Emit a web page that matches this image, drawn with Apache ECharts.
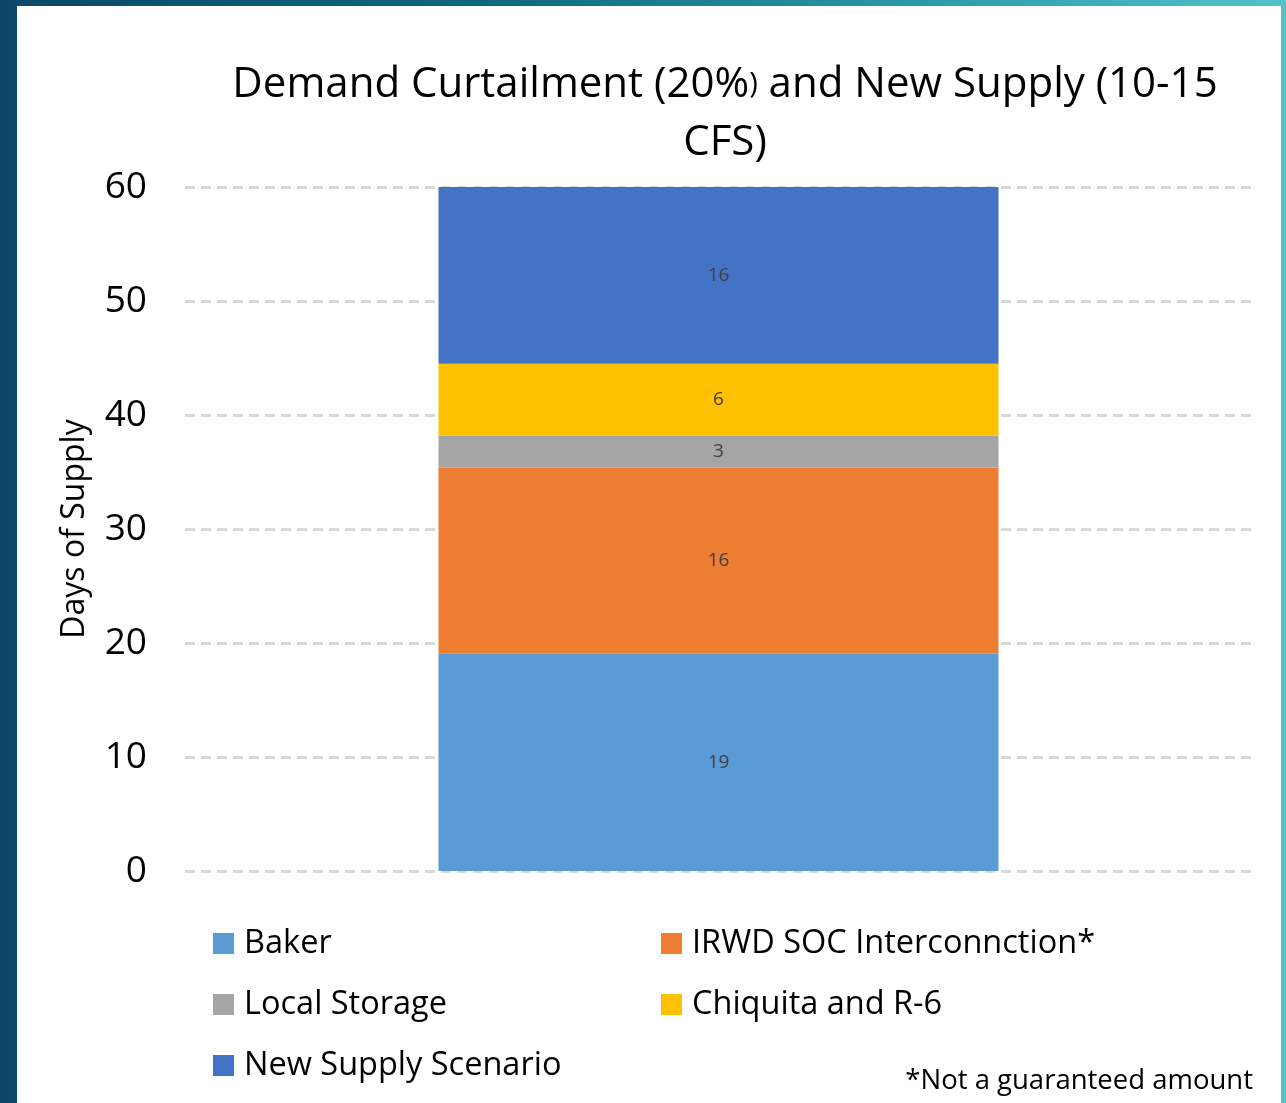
<!DOCTYPE html>
<html>
<head>
<meta charset="utf-8">
<script src="https://cdn.jsdelivr.net/npm/echarts@6/dist/echarts.min.js"></script>
<style>
  html, body { margin: 0; padding: 0; }
  body {
    width: 1286px; height: 1103px; overflow: hidden;
    background: linear-gradient(90deg, #0a4766 0%, #106b80 40%, #2d9fb0 75%, #52c3c8 100%);
    position: relative;
  }
  #chart {
    position: absolute; left: 17px; top: 6px;
    width: 1264px; height: 1097px; background: #fff;
  }
</style>
</head>
<body>
<div id="chart"></div>
<script>
// data
var categories = ['Scenario'];
var seriesNames = ['Baker', 'IRWD SOC Interconnction*', 'Local Storage', 'Chiquita and R-6', 'New Supply Scenario'];
var bakerDays = [19.1];
var irwdDays = [16.3];
var localStorageDays = [2.8];
var chiquitaDays = [6.3];
var newSupplyDays = [15.5];
var yTicks = [0, 10, 20, 30, 40, 50, 60];

var colors = ['#5b9bd5', '#ed7d31', '#a5a5a5', '#ffc000', '#4472c4'];
var font = '"Open Sans", sans-serif';

var chart = echarts.init(document.getElementById('chart'));

function barSeries(name, data, i) {
  return {
    name: name,
    type: 'bar',
    stack: 'total',
    data: data,
    barWidth: 560,
    itemStyle: { color: colors[i] },
    label: {
      show: true,
      position: 'inside',
      color: '#404040',
      fontSize: 19,
      fontFamily: font,
      formatter: function (p) { return Math.round(p.value); }
    }
  };
}

var legendText = { fontSize: 32.5, fontFamily: font, color: '#000', lineHeight: 33, padding: [0, 0, 0, 5] };

var option = {
  animation: false,
  color: colors,
  title: {
    text: '{a|Demand Curtailment (20%}{s|)}{a| and New Supply (10-15}\n{a|CFS)}',
    left: 703,
    top: 45,
    textAlign: 'center',
    textStyle: {
      fontWeight: 'normal',
      rich: {
        a: { fontSize: 42, fontFamily: font, fontWeight: 'normal', color: '#000', lineHeight: 58 },
        s: { fontSize: 29, fontFamily: font, fontWeight: 'normal', color: '#000', lineHeight: 58 }
      }
    }
  },
  grid: {
    left: 168,
    right: 29,
    top: 181,
    bottom: 232
  },
  xAxis: {
    type: 'category',
    data: categories,
    axisLine: { show: false },
    axisTick: { show: false },
    axisLabel: { show: false }
  },
  yAxis: {
    type: 'value',
    min: yTicks[0],
    max: yTicks[yTicks.length - 1],
    interval: 10,
    name: 'Days of Supply',
    nameLocation: 'middle',
    nameGap: 94,
    nameRotate: 90,
    nameTextStyle: { fontSize: 32, fontFamily: font, color: '#000' },
    axisLine: { show: false },
    axisTick: { show: false },
    axisLabel: { fontSize: 37, fontFamily: font, color: '#000', margin: 38 },
    splitLine: {
      lineStyle: { color: '#d9d9d9', width: 3, type: [10, 6] }
    }
  },
  legend: [
    {
      data: [seriesNames[0], seriesNames[2], seriesNames[4]],
      orient: 'vertical',
      left: 191,
      top: 916,
      itemWidth: 21,
      itemHeight: 21,
      itemGap: 28,
      icon: 'rect',
      textStyle: legendText
    },
    {
      data: [seriesNames[1], seriesNames[3]],
      orient: 'vertical',
      left: 639,
      top: 916,
      itemWidth: 21,
      itemHeight: 21,
      itemGap: 28,
      icon: 'rect',
      textStyle: legendText
    }
  ],
  graphic: [
    {
      type: 'text',
      right: 28,
      top: 1061,
      style: { text: '*Not a guaranteed amount', fontSize: 27.5, fontFamily: font, fill: '#000' }
    }
  ],
  series: [
    barSeries(seriesNames[0], bakerDays, 0),
    barSeries(seriesNames[1], irwdDays, 1),
    barSeries(seriesNames[2], localStorageDays, 2),
    barSeries(seriesNames[3], chiquitaDays, 3),
    barSeries(seriesNames[4], newSupplyDays, 4)
  ]
};

chart.setOption(option);
</script>
</body>
</html>
